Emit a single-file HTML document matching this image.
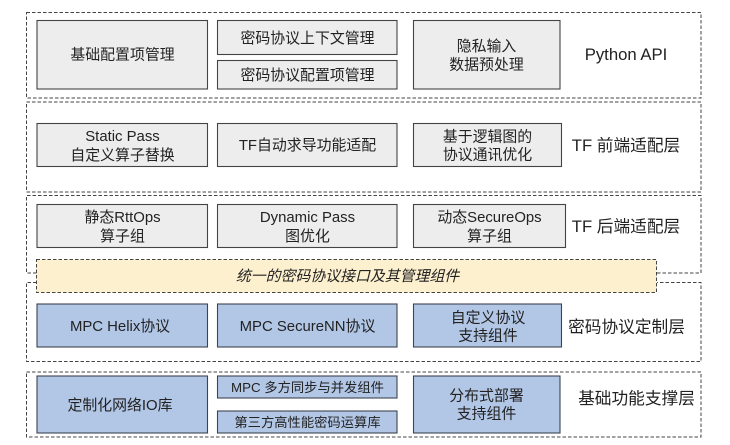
<!DOCTYPE html>
<html><head><meta charset="utf-8">
<style>
html,body{margin:0;padding:0;background:#fff;width:730px;height:445px;overflow:hidden}
svg{display:block;filter:blur(.35px)}
text{font-family:"Liberation Sans","Noto Sans CJK SC",sans-serif;fill:#222;text-anchor:middle;font-size:14.9px}
.g{fill:#ededed;stroke:#444;stroke-width:1.1}
.b{fill:#b2c6e6;stroke:#3c4450;stroke-width:1.1}
.d{fill:none;stroke:#444;stroke-width:1;stroke-dasharray:3.5 2}
text.l{font-size:16.7px}
text.s{font-size:13.3px}
</style></head><body>
<svg width="730" height="445" viewBox="0 0 730 445" xmlns="http://www.w3.org/2000/svg">
<!-- layer frames -->
<rect class="d" x="26.5" y="12.5" width="674.5" height="85.5"/>
<rect class="d" x="26.5" y="102" width="674.5" height="90"/>
<path class="d" d="M36.5 273H26.5V195.5H701V273H657"/>
<path class="d" d="M36.5 282.5H26.5V361.5H701V282.5H657"/>
<rect class="d" x="26.5" y="372" width="674.5" height="65"/>
<!-- row 1 -->
<rect class="g" x="37" y="20.5" width="170.5" height="68.5"/>
<rect class="g" x="217.5" y="20.5" width="179.5" height="34"/>
<rect class="g" x="217.5" y="60.5" width="179.5" height="28.5"/>
<rect class="g" x="413.5" y="20.5" width="146.5" height="68.5"/>
<text x="122.5" y="59.5">基础配置项管理</text>
<text x="307.5" y="43">密码协议上下文管理</text>
<text x="307.5" y="80">密码协议配置项管理</text>
<text x="486.5" y="51">隐私输入</text>
<text x="486.5" y="69.5">数据预处理</text>
<text class="l" x="626" y="60">Python API</text>
<!-- row 2 -->
<rect class="g" x="37" y="123.5" width="170.5" height="43"/>
<rect class="g" x="217.5" y="123.5" width="179.5" height="43"/>
<rect class="g" x="413.5" y="123.5" width="148" height="43"/>
<text x="122.5" y="141">Static Pass</text>
<text x="122.5" y="160">自定义算子替换</text>
<text x="307.5" y="150">TF自动求导功能适配</text>
<text x="487.5" y="141.5">基于逻辑图的</text>
<text x="487.5" y="159.5">协议通讯优化</text>
<text class="l" x="626" y="151">TF 前端适配层</text>
<!-- row 3 -->
<rect class="g" x="37" y="204.5" width="170.5" height="43"/>
<rect class="g" x="217.5" y="204.5" width="179.5" height="43"/>
<rect class="g" x="413.5" y="204.5" width="152" height="43"/>
<text x="122.5" y="222">静态RttOps</text>
<text x="122.5" y="241">算子组</text>
<text x="307.5" y="222">Dynamic Pass</text>
<text x="307.5" y="241">图优化</text>
<text x="489.5" y="222">动态SecureOps</text>
<text x="489.5" y="241">算子组</text>
<text class="l" x="626" y="232">TF 后端适配层</text>
<!-- interface bar -->
<rect x="36.5" y="259.5" width="620" height="33" fill="#fdf0cf" stroke="#444" stroke-width="1" stroke-dasharray="3.5 2"/>
<text x="347.5" y="281" font-style="italic">统一的密码协议接口及其管理组件</text>
<!-- row 4 -->
<rect class="b" x="37" y="304" width="170.5" height="43"/>
<rect class="b" x="217.5" y="304" width="179.5" height="43"/>
<rect class="b" x="413.5" y="304" width="148" height="43"/>
<text x="120" y="331">MPC Helix协议</text>
<text x="307.5" y="331">MPC SecureNN协议</text>
<text x="488" y="322.5">自定义协议</text>
<text x="488" y="340.5">支持组件</text>
<text class="l" x="626.5" y="332.5">密码协议定制层</text>
<!-- row 5 -->
<rect class="b" x="37" y="376" width="170.5" height="57"/>
<rect class="b" x="217.5" y="376" width="179.5" height="22"/>
<rect class="b" x="217.5" y="411" width="179.5" height="22"/>
<rect class="b" x="413.5" y="376" width="146.5" height="57"/>
<text x="120" y="410">定制化网络IO库</text>
<text class="s" x="307.5" y="392">MPC 多方同步与并发组件</text>
<text class="s" x="307.5" y="427">第三方高性能密码运算库</text>
<text x="486.5" y="400.5">分布式部署</text>
<text x="486.5" y="418.5">支持组件</text>
<text class="l" x="636.5" y="404">基础功能支撑层</text>
</svg>
</body></html>
